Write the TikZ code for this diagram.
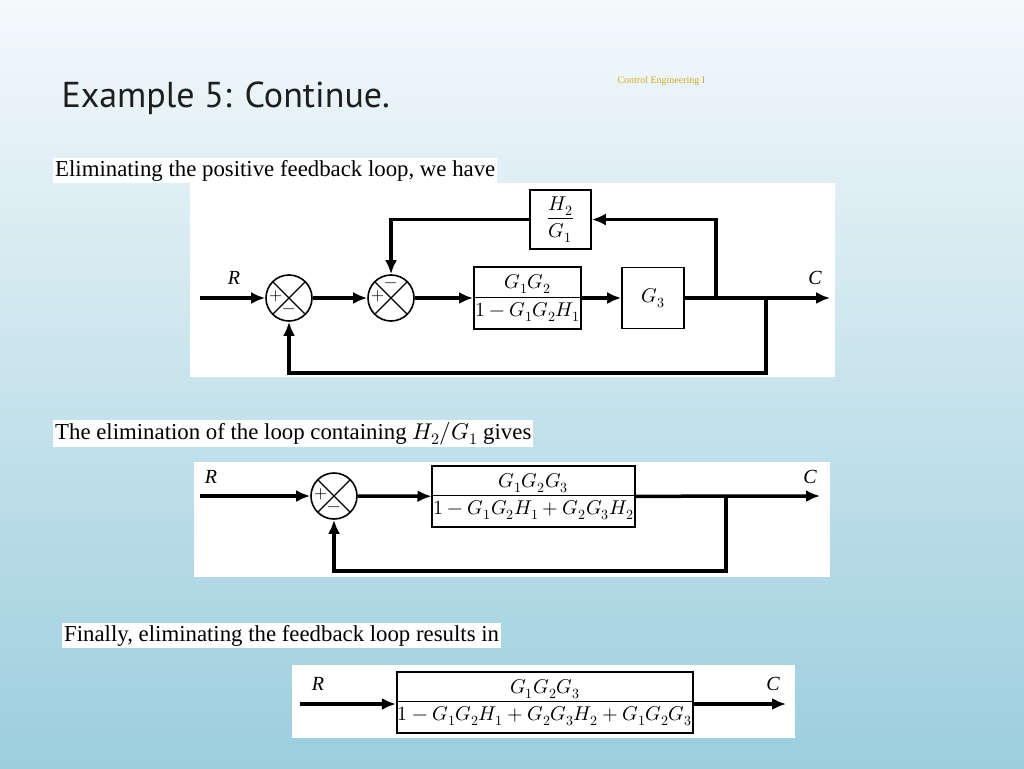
\documentclass[tikz,border=0pt]{standalone}
\usepackage{amsmath}
\usepackage{fontspec}
\usepackage{unicode-math}
\setmainfont{Liberation Serif}
\setmathfont{Latin Modern Math}
\newfontfamily\titlefont{PT Sans}
\usetikzlibrary{arrows.meta}
\usetikzlibrary{calc}
\usetikzlibrary{positioning}

\tikzset{
  block/.style={draw, line width=1.6pt, fill=white, inner sep=0pt, font=\fontsize{20}{23}\selectfont},
  sumnode/.style={draw, circle, line width=1.6pt, minimum size=46pt, inner sep=0pt, fill=white,
    path picture={\draw[line width=1.2pt] (path picture bounding box.north west)--(path picture bounding box.south east)
      (path picture bounding box.north east)--(path picture bounding box.south west);}},
  sig/.style={line width=3.5pt},
  sigarrow/.style={sig, -{Latex[length=14pt,width=12pt]}},
  sign/.style={font=\fontsize{17}{17}\selectfont, inner sep=1pt},
  lbl/.style={font=\fontsize{20}{20}\selectfont\itshape},
  caption/.style={fill=white, inner sep=2pt, anchor=north west, font=\fontsize{22.8}{25}\selectfont}
}

\begin{document}
\begin{tikzpicture}[x=1pt, y=-1pt]
        \useasboundingbox (0,0) rectangle (1024,768);
        \shade[top color={rgb,255:red,244;green,249;blue,251}, bottom color={rgb,255:red,156;green,206;blue,222}] (0,0) rectangle (1024,768);
        % heading
        \node[anchor=west, font=\titlefont\fontsize{36}{40}\selectfont, text={rgb,255:red,30;green,30;blue,30}] (title) at (58,98) {Example 5: Continue.};
        \node[anchor=west, font=\fontsize{10}{12}\selectfont, text={rgb,255:red,210;green,170;blue,40}] (course) at (614,81) {Control Engineering I};
        % first diagram
        \fill[white] (190,183) rectangle (835,377);
        \node[caption] (cap1) at (53,158) {Eliminating the positive feedback loop, we have};
        \node[sumnode] (s1) at (289,298) {};
        \node[sumnode] (s2) at (391,298) {};
        \node[block, minimum width=107pt, minimum height=62pt] (b1) at (527.5,298) {$\dfrac{G_1G_2}{1-G_1G_2H_1}$};
        \node[block, minimum width=62pt, minimum height=61pt] (b2) at (653,298) {$G_3$};
        \node[block, minimum width=61pt, minimum height=59pt] (h) at (560.5,219.5) {$\dfrac{H_2}{G_1}$};
        \node[sign] at ($(s1)+(-13,-2)$) {$+$};
        \node[sign] at ($(s1)+(0,13)$) {$-$};
        \node[sign] at ($(s2)+(-13,-2)$) {$+$};
        \node[sign] at ($(s2)+(0,-13)$) {$-$};
        \coordinate (in1) at (200,298);
        \coordinate (out1) at (830,298);
        \coordinate (br1) at (716,298);
        \coordinate (br2) at (766,298);
        \node[lbl] (r1) at (234,278) {R};
        \node[lbl] (c1) at (815,278) {C};
        \draw[sigarrow] (in1) -- (s1);
        \draw[sigarrow] (s1) -- (s2);
        \draw[sigarrow] (s2) -- (b1);
        \draw[sigarrow] (b1) -- (b2);
        \draw[sigarrow] (b2) -- (out1);
        \draw[sigarrow] (br1) |- (h);
        \draw[sigarrow] (h) -| (s2);
        \draw[sigarrow] (br2) -- (766,373) -| (s1);
        % second diagram
        \fill[white] (194,462) rectangle (830,577);
        \node[caption] (cap2) at (53,420) {The elimination of the loop containing $H_2/G_1$ gives};
        \node[sumnode] (s3) at (334,496) {};
        \node[block, minimum width=197pt, minimum height=61pt] (b3) at (533.5,496.5) {$\dfrac{G_1G_2G_3}{1-G_1G_2H_1+G_2G_3H_2}$};
        \node[sign] at ($(s3)+(-13,-2)$) {$+$};
        \node[sign] at ($(s3)+(0,13)$) {$-$};
        \coordinate (in2) at (200,496);
        \coordinate (out2) at (820,496);
        \coordinate (br3) at (726,496);
        \node[lbl] (r2) at (211,477) {R};
        \node[lbl] (c2) at (810,477) {C};
        \draw[sigarrow] (in2) -- (s3);
        \draw[sigarrow] (s3) -- (b3);
        \draw[sigarrow] (b3) -- (out2);
        \draw[sigarrow] (br3) -- (726,571) -| (s3);
        % third diagram
        \fill[white] (292,665) rectangle (795,738);
        \node[caption] (cap3) at (62,623) {Finally, eliminating the feedback loop results in};
        \node[block, minimum width=286pt, minimum height=61pt] (b4) at (545,702.5) {$\dfrac{G_1G_2G_3}{1-G_1G_2H_1+G_2G_3H_2+G_1G_2G_3}$};
        \coordinate (in3) at (300,704);
        \coordinate (out3) at (786,704);
        \node[lbl] (r3) at (318,684) {R};
        \node[lbl] (c3) at (773,684) {C};
        \draw[sigarrow] (in3) -- (b4.west |- in3);
        \draw[sigarrow] (b4.east |- out3) -- (out3);
\end{tikzpicture}
\end{document}
